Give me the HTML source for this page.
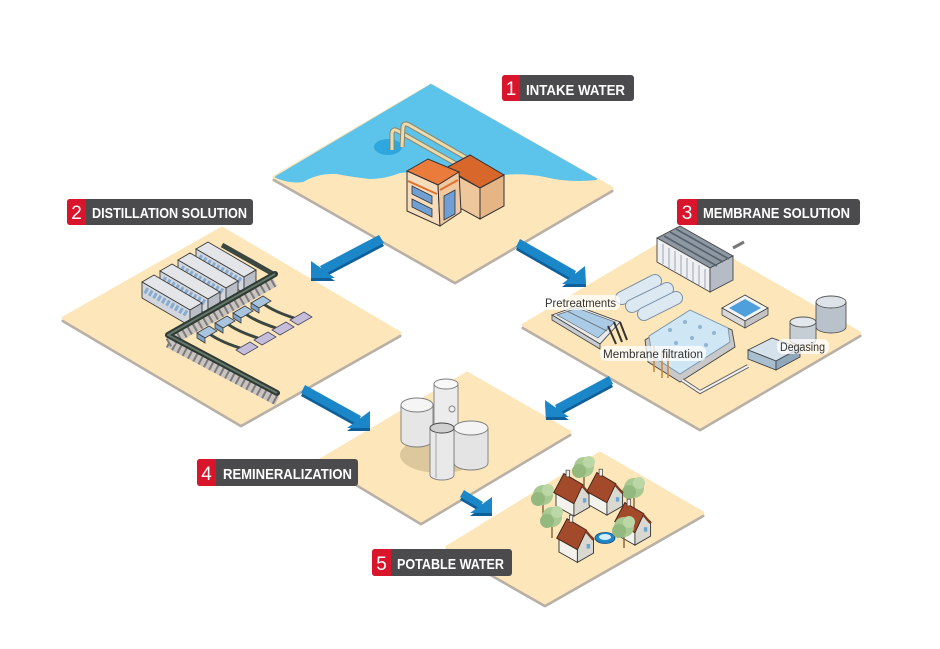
<!DOCTYPE html>
<html><head><meta charset="utf-8"><style>
html,body{margin:0;padding:0;background:#fff;}
svg{display:block;}
text{font-family:"Liberation Sans",sans-serif;}
</style></head><body>
<svg width="940" height="649" viewBox="0 0 940 649" xmlns="http://www.w3.org/2000/svg">
<defs>
<g id="house">
  <polygon points="0,0 16,9 16,-4 0,-13" fill="#f3f2ec" stroke="#333" stroke-width="0.8"/>
  <polygon points="16,9 30,1 30,-12 23,-18 16,-4" fill="#d9d9d2" stroke="#333" stroke-width="0.8"/>
  <rect x="24" y="-7" width="3" height="4" fill="#6aa6d6"/>
  <polygon points="-2,-12 16,-2 24,-19 7,-29" fill="#a24a2a" stroke="#3a2418" stroke-width="0.8"/>
  <polygon points="24,-19 31,-11 29,-10 23,-17" fill="#7e3a20"/>
  <rect x="9" y="-32" width="3" height="6" fill="#eee" stroke="#333" stroke-width="0.6"/>
</g>
<g id="tree">
  <line x1="0" y1="0" x2="0" y2="16" stroke="#8a6a40" stroke-width="1.5"/>
  <circle cx="0" cy="-5" r="10" fill="#a8c992"/>
  <circle cx="-5" cy="-1" r="7" fill="#94b97f"/>
  <circle cx="5" cy="-10" r="6" fill="#bcd7a6"/>
</g>
</defs>

<!-- ============ PLATFORM 1 ============ -->
<polygon points="431,88 612,191 455,283 274,180" fill="#b8b0a6" stroke="#b8b0a6" stroke-width="3" stroke-linejoin="round"/>
<polygon points="431,85 612,188 455,280 274,177" fill="#fde6b9" stroke="#fde6b9" stroke-width="3" stroke-linejoin="round"/>
<path d="M431,85 L596,179 Q570,182 545,176 Q520,171 495,175 Q470,180 445,175 Q420,170 400,172 Q385,178 370,178 Q352,176 337,173 Q318,172 303,181 Q290,183 276,177 Z" fill="#5cc3ea" stroke="#5cc3ea" stroke-width="2" stroke-linejoin="round"/>
<ellipse cx="388" cy="147" rx="14" ry="8" fill="#2fa6dd"/>
<path d="M392,150 L392,133 Q393,128 398,131 L458,165" fill="none" stroke="#8d8468" stroke-width="5"/>
<path d="M392,150 L392,133 Q393,128 398,131 L458,165" fill="none" stroke="#eadcae" stroke-width="3"/>
<path d="M402,147 L403,127 Q404,122 409,125 L470,160" fill="none" stroke="#8d8468" stroke-width="5"/>
<path d="M402,147 L403,127 Q404,122 409,125 L470,160" fill="none" stroke="#eadcae" stroke-width="3"/>
<!-- building back block -->
<polygon points="446,168 470,155 504,175 480,188" fill="#d8672c" stroke="#333" stroke-width="1"/>
<polygon points="480,188 504,175 504,206 480,219" fill="#e6b585" stroke="#333" stroke-width="1"/>
<polygon points="458,176 480,188 480,219 458,207" fill="#efc79c" stroke="#333" stroke-width="1"/>
<!-- building front block -->
<polygon points="407,171 428,159 459,172 438,185" fill="#ea7b3b" stroke="#333" stroke-width="1"/>
<polygon points="407,171 438,185 440,226 407,211" fill="#f7dcbc" stroke="#333" stroke-width="1"/>
<polygon points="438,185 459,172 461,212 440,226" fill="#f0c8a0" stroke="#333" stroke-width="1"/>
<polygon points="412,186 432,196 432,204 412,194" fill="#6f9fd3" stroke="#333" stroke-width="0.8"/>
<polygon points="412,199 432,209 432,217 412,207" fill="#6f9fd3" stroke="#333" stroke-width="0.8"/>
<polygon points="444,196 455,190 455,214 444,220" fill="#6f9fd3" stroke="#333" stroke-width="0.8"/>
<line x1="408" y1="181" x2="437" y2="194" stroke="#e0702f" stroke-width="2"/>
<line x1="440" y1="190" x2="458" y2="180" stroke="#e0702f" stroke-width="2"/>

<!-- ============ PLATFORM 2 ============ -->
<polygon points="222,231 400,336 241,426 63,321" fill="#b8b0a6" stroke="#b8b0a6" stroke-width="3" stroke-linejoin="round"/>
<polygon points="222,228 400,333 241,423 63,318" fill="#fde6b9" stroke="#fde6b9" stroke-width="3" stroke-linejoin="round"/>
<path d="M222,245 L275,275" fill="none" stroke="#3a4740" stroke-width="5"/>
<g stroke="#3b3b3b" stroke-width="0.9">
  <g transform="translate(196,265)">
    <polygon points="0,-16 48,12 60,5 12,-23" fill="#e4e5e8"/>
    <polygon points="0,0 48,28 48,12 0,-16" fill="#d3d7dd"/>
    <polygon points="48,28 60,21 60,5 48,12" fill="#b9bec6"/>
    <line x1="3" y1="-8" x2="45" y2="16" stroke="#87acd2" stroke-width="6" stroke-dasharray="3 2"/>
  </g>
  <g transform="translate(178,276)">
    <polygon points="0,-16 48,12 60,5 12,-23" fill="#e4e5e8"/>
    <polygon points="0,0 48,28 48,12 0,-16" fill="#d3d7dd"/>
    <polygon points="48,28 60,21 60,5 48,12" fill="#b9bec6"/>
    <line x1="3" y1="-8" x2="45" y2="16" stroke="#87acd2" stroke-width="6" stroke-dasharray="3 2"/>
  </g>
  <g transform="translate(160,287)">
    <polygon points="0,-16 48,12 60,5 12,-23" fill="#e4e5e8"/>
    <polygon points="0,0 48,28 48,12 0,-16" fill="#d3d7dd"/>
    <polygon points="48,28 60,21 60,5 48,12" fill="#b9bec6"/>
    <line x1="3" y1="-8" x2="45" y2="16" stroke="#87acd2" stroke-width="6" stroke-dasharray="3 2"/>
  </g>
  <g transform="translate(142,298)">
    <polygon points="0,-16 48,12 60,5 12,-23" fill="#e4e5e8"/>
    <polygon points="0,0 48,28 48,12 0,-16" fill="#d3d7dd"/>
    <polygon points="48,28 60,21 60,5 48,12" fill="#b9bec6"/>
    <line x1="3" y1="-8" x2="45" y2="16" stroke="#87acd2" stroke-width="6" stroke-dasharray="3 2"/>
  </g>
</g>
<path d="M168,343 L277,401" fill="none" stroke="#c9c4bd" stroke-width="9"/>
<path d="M168,343 L277,401" fill="none" stroke="#7c7a80" stroke-width="9" stroke-dasharray="2 4"/>
<path d="M168,343 L275,282" fill="none" stroke="#c9c4bd" stroke-width="9"/>
<path d="M168,343 L275,282" fill="none" stroke="#7c7a80" stroke-width="9" stroke-dasharray="2 4"/>
<path d="M277,393 L168,335 L275,274" fill="none" stroke="#2e3a33" stroke-width="6" stroke-linejoin="round" stroke-linecap="round"/>
<path d="M277,393 L168,335 L275,274" fill="none" stroke="#66776c" stroke-width="2" stroke-linejoin="round"/>
<g fill="none" stroke="#3a4740" stroke-width="3">
  <path d="M205,330 Q215,340 240,348"/>
  <path d="M223,320 Q233,330 258,338"/>
  <path d="M241,310 Q251,320 276,328"/>
  <path d="M259,300 Q269,310 294,318"/>
</g>
<g stroke="#3b3b3b" stroke-width="0.8" fill="#a8c4de">
  <polygon points="197,333 209,326 217,331 205,338"/><polygon points="197,333 205,338 205,343 197,338" fill="#7fa3c6"/>
  <polygon points="215,323 227,316 235,321 223,328"/><polygon points="215,323 223,328 223,333 215,328" fill="#7fa3c6"/>
  <polygon points="233,313 245,306 253,311 241,318"/><polygon points="233,313 241,318 241,323 233,318" fill="#7fa3c6"/>
  <polygon points="251,303 263,296 271,301 259,308"/><polygon points="251,303 259,308 259,313 251,308" fill="#7fa3c6"/>
</g>
<g stroke="#4a4660" stroke-width="0.8" fill="#c4bedb">
  <polygon points="236,350 250,342 258,347 244,355"/>
  <polygon points="254,340 268,332 276,337 262,345"/>
  <polygon points="272,330 286,322 294,327 280,335"/>
  <polygon points="290,320 304,312 312,317 298,325"/>
</g>

<!-- ============ PLATFORM 3 ============ -->
<polygon points="682,234 860,336 700,430 523,328" fill="#b8b0a6" stroke="#b8b0a6" stroke-width="3" stroke-linejoin="round"/>
<polygon points="682,231 860,333 700,427 523,325" fill="#fde6b9" stroke="#fde6b9" stroke-width="3" stroke-linejoin="round"/>
<g stroke="#444" stroke-width="0.9">
  <polygon points="657,238 680,226 733,256 710,268" fill="#8e98a3"/>
  <polygon points="657,238 710,268 710,292 657,262" fill="#eef0f3"/>
  <polygon points="710,268 733,256 733,280 710,292" fill="#b5bcc5"/>
</g>
<g stroke="#55606c" stroke-width="1.6">
  <line x1="664" y1="236" x2="717" y2="266"/><line x1="670" y1="232" x2="723" y2="262"/><line x1="676" y1="229" x2="729" y2="259"/>
</g>
<g stroke="#9aa4ae" stroke-width="1">
  <line x1="663" y1="244" x2="663" y2="264"/><line x1="669" y1="248" x2="669" y2="268"/><line x1="675" y1="251" x2="675" y2="271"/>
  <line x1="681" y1="255" x2="681" y2="275"/><line x1="687" y1="258" x2="687" y2="278"/><line x1="693" y1="262" x2="693" y2="282"/>
  <line x1="699" y1="265" x2="699" y2="285"/><line x1="705" y1="269" x2="705" y2="289"/>
</g>
<path d="M733,248 L744,242" stroke="#777" stroke-width="3"/>
<g stroke-linecap="round">
  <line x1="622" y1="298" x2="655" y2="281" stroke="#7b8fa2" stroke-width="14"/>
  <line x1="622" y1="298" x2="655" y2="281" stroke="#dce9f3" stroke-width="12"/>
  <line x1="632" y1="306" x2="667" y2="289" stroke="#7b8fa2" stroke-width="14"/>
  <line x1="632" y1="306" x2="667" y2="289" stroke="#dce9f3" stroke-width="12"/>
  <line x1="644" y1="314" x2="676" y2="298" stroke="#7b8fa2" stroke-width="14"/>
  <line x1="644" y1="314" x2="676" y2="298" stroke="#dce9f3" stroke-width="12"/>
</g>
<polygon points="552,315 577,306 620,322 600,344" fill="#e8eaec" stroke="#444" stroke-width="0.9"/>
<polygon points="557,315 577,308 615,322 598,338" fill="#a9cbe6" stroke="#666" stroke-width="0.7"/>
<line x1="567" y1="311" x2="607" y2="331" stroke="#666" stroke-width="0.7"/>
<polygon points="552,315 600,344 600,349 552,320" fill="#c9cdd2" stroke="#444" stroke-width="0.8"/>
<path d="M608,326 L616,344 M614,322 L622,342 M620,322 L627,340" stroke="#333" stroke-width="2"/>
<polygon points="722,308 745,295 768,308 745,321" fill="#f4f4f4" stroke="#444" stroke-width="0.9"/>
<polygon points="729,308 745,299 761,308 745,317" fill="#4f9fdc"/>
<polygon points="722,308 745,321 745,328 722,315" fill="#d8d8d8" stroke="#444" stroke-width="0.8"/>
<polygon points="745,321 768,308 768,315 745,328" fill="#c4c4c4" stroke="#444" stroke-width="0.8"/>
<polygon points="645,340 690,312 732,330 735,347 680,382 648,362" fill="#c9c9c9" stroke="#444" stroke-width="0.9"/>
<polygon points="649,336 690,310 728,328 730,342 680,374 652,356" fill="#cfe6f4" stroke="#6f8fa8" stroke-width="0.8"/>
<g fill="#8fb5d2">
  <circle cx="670" cy="330" r="2"/><circle cx="685" cy="322" r="2"/><circle cx="700" cy="327" r="2"/><circle cx="714" cy="333" r="2"/>
  <circle cx="676" cy="343" r="2"/><circle cx="692" cy="338" r="2"/><circle cx="706" cy="345" r="2"/><circle cx="688" cy="355" r="2"/>
</g>
<g stroke="#c98a3c" stroke-width="1.6">
  <line x1="654" y1="346" x2="654" y2="372"/><line x1="662" y1="350" x2="662" y2="378"/><line x1="668" y1="354" x2="668" y2="378"/>
</g>
<path d="M682,380 L700,392 L748,366" fill="none" stroke="#666" stroke-width="4"/>
<path d="M682,380 L700,392 L748,366" fill="none" stroke="#f2f2f2" stroke-width="2"/>
<g stroke="#555" stroke-width="0.9">
  <path d="M816,302 L816,327 A15,6 0 0 0 846,327 L846,302 Z" fill="#b9c2ca"/>
  <ellipse cx="831" cy="302" rx="15" ry="6" fill="#dde3e8"/>
  <path d="M790,322 L790,340 A13,5 0 0 0 816,340 L816,322 Z" fill="#c6ced5"/>
  <ellipse cx="803" cy="322" rx="13" ry="5" fill="#e3e8ec"/>
</g>
<polygon points="748,350 772,338 800,348 776,361" fill="#d5e2ec" stroke="#444" stroke-width="0.9"/>
<polygon points="748,350 776,361 776,370 748,359" fill="#a9bfd0" stroke="#444" stroke-width="0.9"/>
<polygon points="776,361 800,348 800,357 776,370" fill="#8fa8bb" stroke="#444" stroke-width="0.9"/>
<rect x="542" y="295" width="78" height="15" rx="6" fill="#fff" fill-opacity="0.75"/>
<text x="545" y="307" font-size="11.5" fill="#333" textLength="71" lengthAdjust="spacingAndGlyphs">Pretreatments</text>
<rect x="600" y="346" width="106" height="15" rx="6" fill="#fff" fill-opacity="0.75"/>
<text x="603" y="358" font-size="11.5" fill="#333" textLength="100" lengthAdjust="spacingAndGlyphs">Membrane filtration</text>
<rect x="777" y="339" width="52" height="15" rx="6" fill="#fff" fill-opacity="0.75"/>
<text x="780" y="351" font-size="11.5" fill="#333" textLength="45" lengthAdjust="spacingAndGlyphs">Degasing</text>

<!-- ============ PLATFORM 4 ============ -->
<polygon points="467,376 570,435 421,524 320,463" fill="#b8b0a6" stroke="#b8b0a6" stroke-width="3" stroke-linejoin="round"/>
<polygon points="467,373 570,432 421,521 320,460" fill="#fde6b9" stroke="#fde6b9" stroke-width="3" stroke-linejoin="round"/>
<ellipse cx="440" cy="455" rx="40" ry="18" fill="#dcc89c"/>
<g stroke="#7d7d7d" stroke-width="0.9">
  <path d="M401,405 L401,440 A16,7 0 0 0 433,440 L433,405 Z" fill="#e6e6e6"/>
  <ellipse cx="417" cy="405" rx="16" ry="7" fill="#f5f5f5"/>
  <path d="M434,384 L434,430 A12,5 0 0 0 458,430 L458,384 Z" fill="#ececec"/>
  <ellipse cx="446" cy="384" rx="12" ry="5" fill="#f8f8f8"/>
  <circle cx="452" cy="409" r="3" fill="#f0f0f0"/>
  <path d="M454,428 L454,463 A17,7 0 0 0 488,463 L488,428 Z" fill="#e4e4e4"/>
  <ellipse cx="471" cy="428" rx="17" ry="7" fill="#f4f4f4"/>
  <path d="M430,428 L430,475 A12,5 0 0 0 454,475 L454,428 Z" fill="#e9e9e9"/>
  <ellipse cx="442" cy="428" rx="12" ry="5" fill="#d0d0d0" stroke="#444"/>
  <line x1="436" y1="432" x2="436" y2="478" stroke="#9a9a9a"/>
</g>

<!-- ============ PLATFORM 5 ============ -->
<polygon points="600,456 703,516 545,606 447,550" fill="#b8b0a6" stroke="#b8b0a6" stroke-width="3" stroke-linejoin="round"/>
<polygon points="600,453 703,513 545,603 447,547" fill="#fde6b9" stroke="#fde6b9" stroke-width="3" stroke-linejoin="round"/>
<use href="#tree" x="584" y="472"/>
<use href="#tree" x="543" y="500"/>
<use href="#tree" x="634" y="493"/>
<use href="#house" transform="translate(556,506) scale(1.12)"/>
<use href="#house" transform="translate(589,505) scale(1.12)"/>
<use href="#house" transform="translate(617,535) scale(1.12)"/>
<use href="#tree" x="552" y="522"/>
<use href="#house" transform="translate(559,552) scale(1.15)"/>
<ellipse cx="605" cy="538" rx="10" ry="5.5" fill="#1f86c8" stroke="#0f4f80" stroke-width="0.8"/>
<ellipse cx="605" cy="537" rx="6" ry="3" fill="#d6eefa"/>
<use href="#tree" x="624" y="532"/>

<!-- ============ ARROWS ============ -->
<g fill="#0f5f98">
  <polygon points="379,238 384,246 325,277 320,269"/><polygon points="311,264 311,281 335,281"/>
  <polygon points="520,242 516,250 572,282 576,274"/><polygon points="585,269 586,287 562,287"/>
  <polygon points="305,388 301,396 357,427 361,419"/><polygon points="370,414 370,431 347,431"/>
  <polygon points="609,379 613,387 559,416 555,408"/><polygon points="545,403 546,420 569,420"/>
  <polygon points="464,493 460,500 479,511 483,505"/><polygon points="492,500 492,516 470,516"/>
</g>
<g fill="#1b87c9">
  <polygon points="379,235 384,243 325,274 320,266"/><polygon points="311,261 311,278 335,278"/>
  <polygon points="520,239 516,247 572,279 576,271"/><polygon points="585,266 586,284 562,284"/>
  <polygon points="305,385 301,393 357,424 361,416"/><polygon points="370,411 370,428 347,428"/>
  <polygon points="609,376 613,384 559,413 555,405"/><polygon points="545,400 546,417 569,417"/>
  <polygon points="464,490 460,497 479,508 483,502"/><polygon points="492,497 492,513 470,513"/>
</g>

<!-- ============ LABELS ============ -->
<g>
  <rect x="502" y="75" width="132" height="26" rx="3" fill="#4b4b4d"/>
  <rect x="502" y="75" width="18" height="26" rx="3" fill="#d8152b"/><rect x="512" y="75" width="8" height="26" fill="#d8152b"/>
  <text x="511" y="95" font-size="19" fill="#fff" text-anchor="middle">1</text>
  <text x="526" y="95" font-size="15" font-weight="bold" fill="#fff" textLength="99" lengthAdjust="spacingAndGlyphs">INTAKE WATER</text>

  <rect x="67" y="199" width="186" height="26" rx="3" fill="#4b4b4d"/>
  <rect x="67" y="199" width="19" height="26" rx="3" fill="#d8152b"/><rect x="77" y="199" width="9" height="26" fill="#d8152b"/>
  <text x="76.5" y="219" font-size="19" fill="#fff" text-anchor="middle">2</text>
  <text x="92" y="218" font-size="15" font-weight="bold" fill="#fff" textLength="155" lengthAdjust="spacingAndGlyphs">DISTILLATION SOLUTION</text>

  <rect x="677" y="199" width="183" height="26" rx="3" fill="#4b4b4d"/>
  <rect x="677" y="199" width="20" height="26" rx="3" fill="#d8152b"/><rect x="687" y="199" width="10" height="26" fill="#d8152b"/>
  <text x="687" y="219" font-size="19" fill="#fff" text-anchor="middle">3</text>
  <text x="703" y="218" font-size="15" font-weight="bold" fill="#fff" textLength="147" lengthAdjust="spacingAndGlyphs">MEMBRANE SOLUTION</text>

  <rect x="197" y="459" width="161" height="27" rx="3" fill="#4b4b4d"/>
  <rect x="197" y="459" width="19" height="27" rx="3" fill="#d8152b"/><rect x="207" y="459" width="9" height="27" fill="#d8152b"/>
  <text x="206.5" y="480" font-size="19" fill="#fff" text-anchor="middle">4</text>
  <text x="223" y="479" font-size="15" font-weight="bold" fill="#fff" textLength="129" lengthAdjust="spacingAndGlyphs">REMINERALIZATION</text>

  <rect x="372" y="549" width="140" height="27" rx="3" fill="#4b4b4d"/>
  <rect x="372" y="549" width="19" height="27" rx="3" fill="#d8152b"/><rect x="382" y="549" width="9" height="27" fill="#d8152b"/>
  <text x="381.5" y="570" font-size="19" fill="#fff" text-anchor="middle">5</text>
  <text x="397" y="569" font-size="15" font-weight="bold" fill="#fff" textLength="107" lengthAdjust="spacingAndGlyphs">POTABLE WATER</text>
</g>
</svg>
</body></html>
